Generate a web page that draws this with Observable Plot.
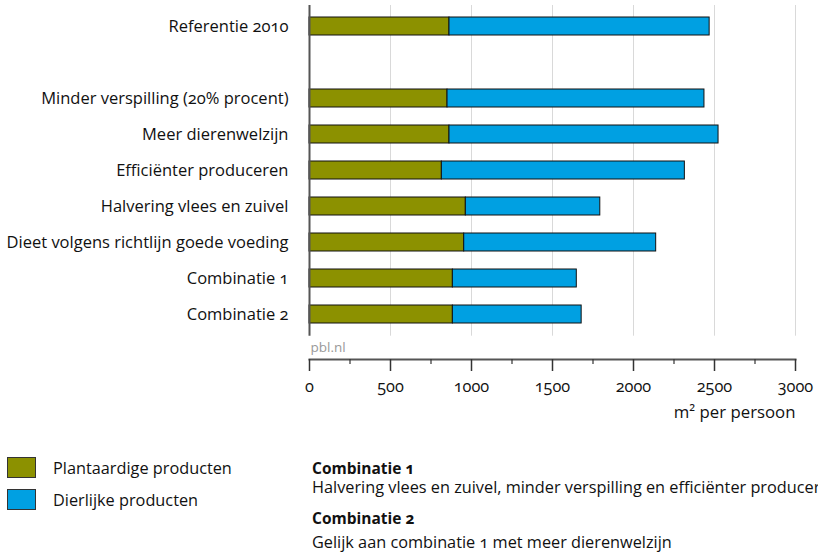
<!DOCTYPE html>
<html>
<head>
<meta charset="utf-8">
<script src="https://cdn.jsdelivr.net/npm/d3@7"></script>
<script src="https://cdn.jsdelivr.net/npm/@observablehq/plot@0.6"></script>
<style>
  html, body { margin: 0; padding: 0; background: #fff; overflow: hidden; }
  body { font-family: "Open Sans", sans-serif; font-variant-numeric: oldstyle-nums; color: #111; }
  #wrap { position: relative; width: 818px; height: 554px; overflow: hidden; }
  #chart svg { display: block; font-variant-numeric: oldstyle-nums; }
  .sw { position: absolute; left: 7px; width: 27px; height: 19px; border: 1px solid #333; }
  .lt { position: absolute; font-size: 16.3px; line-height: 18px; white-space: nowrap; }
  .b { font-weight: 700; font-size: 15.5px; }
</style>
</head>
<body>
<div id="wrap">
  <div id="chart"></div>
  <div id="legend"></div>
</div>
<script>
const categories = [
  "Referentie 2010",
  " ",
  "Minder verspilling (20% procent)",
  "Meer dierenwelzijn",
  "Efficiënter produceren",
  "Halvering vlees en zuivel",
  "Dieet volgens richtlijn goede voeding",
  "Combinatie 1",
  "Combinatie 2"
];
const barCategories = categories.filter(c => c.trim() !== "");
const plantValues = [864, 852, 864, 817, 965, 955, 885, 885];
const animalValues = [1606, 1586, 1661, 1500, 830, 1185, 765, 795];
const seriesNames = ["Plantaardige producten", "Dierlijke producten"];
const seriesColors = ["#8c9100", "#00a0e2"];
const majorTicks = [0, 500, 1000, 1500, 2000, 2500, 3000];
const minorTicks = [250, 750, 1250, 1750, 2250, 2750];
const axisLabel = "m² per persoon";
const sourceLabel = "pbl.nl";
const notes = [
  ["Combinatie 1", "Halvering vlees en zuivel, minder verspilling en efficiënter produceren"],
  ["Combinatie 2", "Gelijk aan combinatie 1 met meer dierenwelzijn"]
];

const data = [];
barCategories.forEach((c, i) => {
  data.push({cat: c, type: seriesNames[0], value: plantValues[i]});
  data.push({cat: c, type: seriesNames[1], value: animalValues[i]});
});

const fontFamily = '"Open Sans", sans-serif';

const chart = Plot.plot({
  width: 818,
  height: 430,
  marginLeft: 309,
  marginRight: 23,
  marginTop: 5,
  marginBottom: 94.3,
  style: {fontFamily, fontSize: "16.5px", color: "#111", background: "#fff"},
  x: {domain: [0, 3000]},
  y: {domain: categories, paddingInner: 0.49, paddingOuter: 0.25},
  color: {domain: seriesNames, range: seriesColors},
  marks: [
    Plot.gridX(majorTicks.slice(1), {stroke: "#d9d9d9", strokeOpacity: 1, strokeWidth: 1}),
    Plot.barX(data, {x: "value", y: "cat", fill: "type", stroke: "#111", strokeWidth: 1}),
    Plot.ruleX([0], {stroke: "#555", strokeWidth: 2}),
    Plot.axisY({tickSize: 0, tickPadding: 21, fontSize: 16.5, label: null,
      fontVariant: "oldstyle-nums", tickFormat: d => d}),
    Plot.frame({anchor: "bottom", dy: 23.3, stroke: "#555", strokeWidth: 2}),
    Plot.axisX(majorTicks, {dy: 23.3, tickSize: 12, tickPadding: 9, label: null, fontSize: 16.3,
      fontVariant: "oldstyle-nums", stroke: "#333", strokeWidth: 1.5, tickFormat: d => String(d)}),
    Plot.axisX(minorTicks, {dy: 23.3, tickSize: 5, text: null, label: null, stroke: "#333", strokeWidth: 1.2}),
    Plot.text([sourceLabel], {frameAnchor: "bottom-left", dx: 1, dy: 16, textAnchor: "start",
      fill: "#999", fontSize: 13.5}),
    Plot.text([axisLabel], {frameAnchor: "bottom-right", dy: 82, textAnchor: "end", fontSize: 16.8, fill: "#111"})
  ]
});
document.getElementById("chart").appendChild(chart);

const legend = document.getElementById("legend");
const swTops = [457, 489];
seriesNames.forEach((n, i) => {
  const sw = document.createElement("div");
  sw.className = "sw";
  sw.style.top = swTops[i] + "px";
  sw.style.background = seriesColors[i];
  legend.appendChild(sw);
  const t = document.createElement("div");
  t.className = "lt";
  t.style.left = "53px";
  t.style.top = (swTops[i] + 1.5) + "px";
  t.textContent = n;
  legend.appendChild(t);
});
const noteTops = [[458.7, 477.7], [509, 532.7]];
notes.forEach((nt, i) => {
  const h = document.createElement("div");
  h.className = "lt b";
  h.style.left = "312px";
  h.style.top = noteTops[i][0] + "px";
  h.textContent = nt[0];
  legend.appendChild(h);
  const d = document.createElement("div");
  d.className = "lt";
  d.style.left = "312px";
  d.style.top = noteTops[i][1] + "px";
  d.textContent = nt[1];
  legend.appendChild(d);
});
</script>
</body>
</html>
